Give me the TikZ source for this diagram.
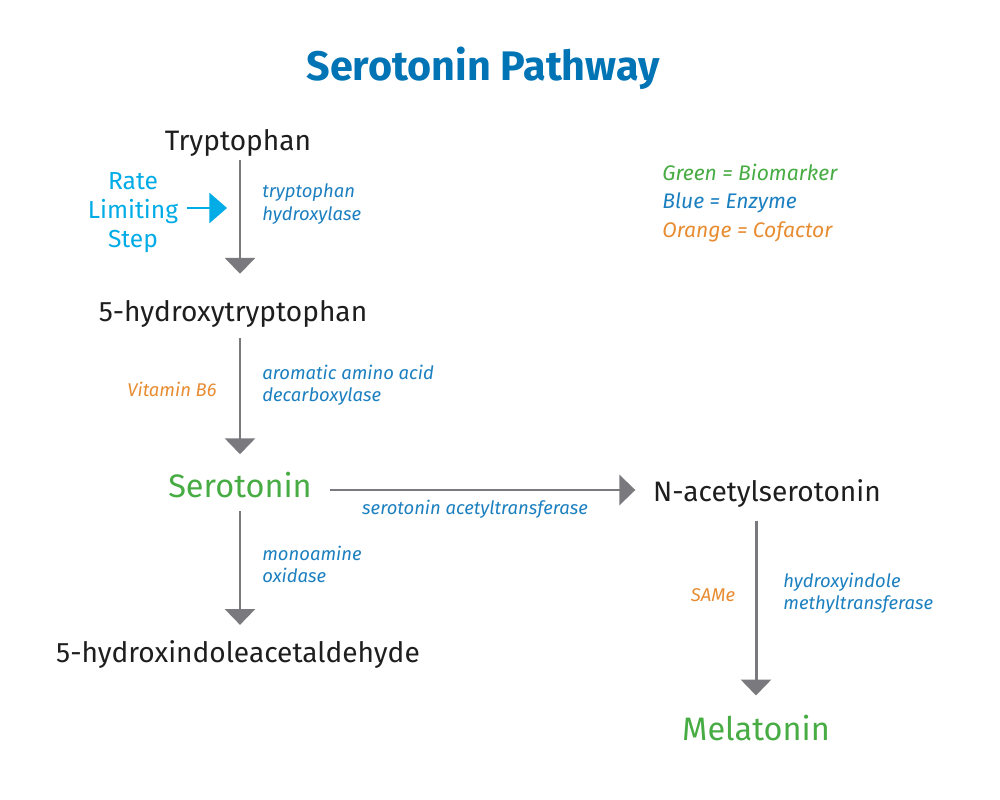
\documentclass[tikz,border=0pt]{standalone}
\usepackage{fontspec}
\setmainfont{Fira Sans}
\usetikzlibrary{arrows.meta, calc}

\definecolor{titleblue}{RGB}{0,116,180}
\definecolor{chemblack}{RGB}{30,30,30}
\definecolor{markgreen}{RGB}{72,172,68}
\definecolor{enzblue}{RGB}{28,128,192}
\definecolor{cofaorange}{RGB}{232,140,50}
\definecolor{ratecyan}{RGB}{0,172,230}
\definecolor{arrowgray}{RGB}{122,122,126}

\begin{document}
\begin{tikzpicture}[x=0.02cm, y=-0.02cm,
    chem/.style={inner sep=0pt, text=chemblack, font=\fontsize{16}{19}\selectfont},
    marker/.style={inner sep=0pt, text=markgreen, font=\fontsize{18.5}{22}\selectfont},
    enz/.style={inner sep=0pt, text=enzblue, align=left, font=\fontsize{10.5}{12.6}\selectfont\itshape},
    cof/.style={inner sep=0pt, text=cofaorange, font=\fontsize{10.5}{12.6}\selectfont\itshape},
    conv/.style={draw=arrowgray, line width=1.7pt, -{Triangle[width=17pt,length=9pt]}}]
    \useasboundingbox[fill=white] (0,0) rectangle (1000,800);

    % title and legend
    \node[inner sep=0pt, text=titleblue, font=\fontsize{23.5}{28}\selectfont\bfseries] (title) at (483,68) {Serotonin Pathway};
    \node[inner sep=0pt, anchor=west, align=left, font=\fontsize{12}{16}\selectfont\itshape] (legend) at (662,203)
      {\textcolor{markgreen}{Green = Biomarker}\\
       \textcolor{enzblue}{Blue = Enzyme}\\
       \textcolor{cofaorange}{Orange = Cofactor}};

    % compounds
    \node[chem] (trp) at (238,143) {Tryptophan};
    \node[chem] (htp) at (233,314) {5-hydroxytryptophan};
    \node[marker] (ser) at (240,485) {Serotonin};
    \node[chem] (hind) at (238,655) {5-hydroxindoleacetaldehyde};
    \node[chem] (nac) at (767,494) {N-acetylserotonin};
    \node[marker] (mel) at (756,728) {Melatonin};

    % conversions
    \draw[conv, shorten <=1.7pt, shorten >=15pt] (trp.south -| ser) -- (htp.north -| ser);
    \draw[conv, shorten <=5.7pt, shorten >=10pt] (htp.south -| ser) -- (ser.north);
    \draw[conv, shorten <=7.4pt, shorten >=9pt] (ser.south) -- (hind.north -| ser);
    \draw[conv, shorten <=10pt, shorten >=10pt] (ser.east |- 0,490) -- (nac.west |- 0,490);
    \draw[conv, shorten <=7pt, shorten >=11pt] (mel.north |- nac.south) -- (mel.north);

    % enzymes and cofactors
    \node[enz, anchor=west] (thyd) at (262,204) {tryptophan\\hydroxylase};
    \node[enz, anchor=west] (aadc) at (262,385) {aromatic amino acid\\decarboxylase};
    \node[cof] (vitb) at (172,389) {Vitamin B6};
    \node[enz, anchor=west] (mao) at (262,564) {monoamine\\oxidase};
    \node[enz] (sat) at (475,509) {serotonin acetyltransferase};
    \node[cof] (same) at (713,595) {SAMe};
    \node[enz, anchor=west] (hiomt) at (783,593) {hydroxyindole\\methyltransferase};

    % rate limiting step
    \node[inner sep=0pt, align=center, text=ratecyan, font=\fontsize{14}{16.5}\selectfont] (rls) at (133,213) {Rate\\Limiting\\Step};
    \coordinate (rlsend) at (227,208);
    \draw[ratecyan, line width=1.6pt, -{Triangle[width=17pt,length=10pt]}, shorten <=5pt] (rls.east |- rlsend) -- (rlsend);
\end{tikzpicture}
\end{document}
